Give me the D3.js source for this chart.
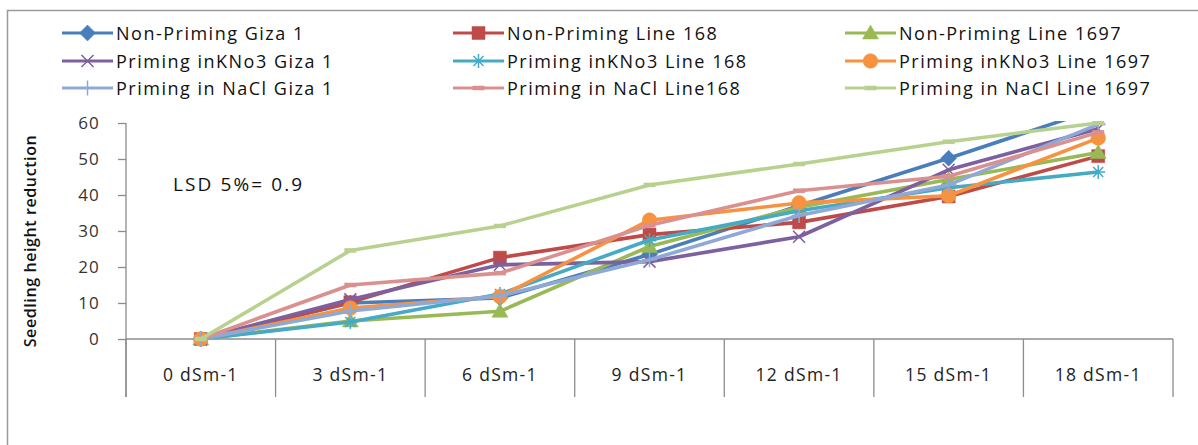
<!DOCTYPE html>
<html>
<head>
<meta charset="utf-8">
<script src="https://cdn.jsdelivr.net/npm/d3@7"></script>
<style>
  body { margin: 0; background: #fff; }
  svg { display: block; font-family: "Open Sans", sans-serif; }
</style>
</head>
<body>
<svg id="chart"></svg>
<script>
// salinity levels on the x axis
var categories = ["0 dSm-1", "3 dSm-1", "6 dSm-1", "9 dSm-1", "12 dSm-1", "15 dSm-1", "18 dSm-1"]
var yTicks = [0, 10, 20, 30, 40, 50, 60]

// values (seedling height reduction)
var nonPrimingGiza1 = [0, 10, 11.4, 23.5, 37, 50.2, 64]
var nonPrimingLine168 = [0, 10.2, 22.6, 29, 32.4, 39.6, 50.8]
var nonPrimingLine1697 = [0, 5, 7.7, 25.7, 36.6, 44.3, 51.8]
var kno3Giza1 = [0, 11, 20.6, 21.5, 28.4, 47, 58.4]
var kno3Line168 = [0, 4.7, 12.5, 27.5, 35.6, 42, 46.4]
var kno3Line1697 = [0, 8.6, 11.8, 33, 37.8, 39.8, 55.8]
var naclGiza1 = [0, 7.8, 12, 22, 34.3, 42.8, 59.6]
var naclLine168 = [0, 15, 18.3, 31.6, 41.2, 45.2, 57.4]
var naclLine1697 = [0, 24.6, 31.4, 42.8, 48.6, 54.8, 60]

var seriesNames = ["Non-Priming Giza 1", "Non-Priming Line 168", "Non-Priming Line 1697",
  "Priming inKNo3 Giza 1", "Priming inKNo3 Line 168", "Priming inKNo3 Line 1697",
  "Priming in NaCl Giza 1", "Priming in NaCl Line168", "Priming in NaCl Line 1697"]
var seriesValues = [nonPrimingGiza1, nonPrimingLine168, nonPrimingLine1697,
  kno3Giza1, kno3Line168, kno3Line1697, naclGiza1, naclLine168, naclLine1697]
var seriesColors = ["#4A7EBB", "#BE4B48", "#98B954", "#7D60A0", "#46AAC5", "#F69240", "#8FA9D6", "#D9908F", "#B9D18F"]
var seriesMarkers = ["diamond", "square", "triangle", "x", "star", "circle", "plus", "dash", "dash"]

var width = 1198, height = 445
var margin = {top: 123, right: 25, bottom: 106, left: 126}

var series = seriesNames.map((name, i) => ({
  name: name,
  values: seriesValues[i],
  color: seriesColors[i],
  marker: seriesMarkers[i]
}))

var svg = d3.select("#chart")
  .attr("width", width)
  .attr("height", height)

// chart area border
svg.append("rect")
  .attr("x", 7.5)
  .attr("y", 10.5)
  .attr("width", width + 20)
  .attr("height", height + 20)
  .attr("fill", "#fff")
  .attr("stroke", "#9a9a9a")
  .attr("stroke-width", 1.5)

var x = d3.scaleBand()
  .domain(categories)
  .range([margin.left, width - margin.right])
  .paddingInner(0)
  .paddingOuter(0)

var y = d3.scaleLinear()
  .domain([0, 60])
  .range([height - margin.bottom, margin.top])

var axisColor = "#8c8c8c"

// y axis
var yAxis = g => g
  .attr("transform", `translate(${margin.left},0)`)
  .call(d3.axisLeft(y).tickValues(yTicks).tickSize(8).tickPadding(18).tickSizeOuter(0))
  .call(g => g.select(".domain").remove())
  .call(g => g.selectAll(".tick line").attr("stroke", axisColor).attr("stroke-width", 1.3))
  .call(g => g.selectAll(".tick text")
    .attr("font-family", "Open Sans")
    .attr("font-size", 17)
    .attr("letter-spacing", 1.2)
    .attr("fill", "#333"))

svg.append("g").call(yAxis)

svg.append("line")
  .attr("x1", margin.left).attr("x2", margin.left)
  .attr("y1", y(60)).attr("y2", y(0) + 58)
  .attr("stroke", axisColor).attr("stroke-width", 1.3)

// x axis, Excel style with category dividers
var boundaries = categories.map(c => x(c)).concat([x.range()[1]])
var xg = svg.append("g")
xg.append("line")
  .attr("x1", margin.left).attr("x2", x.range()[1])
  .attr("y1", y(0)).attr("y2", y(0))
  .attr("stroke", axisColor).attr("stroke-width", 1.3)
xg.selectAll("line.div")
  .data(boundaries)
  .join("line")
  .attr("class", "div")
  .attr("x1", d => d).attr("x2", d => d)
  .attr("y1", y(0)).attr("y2", y(0) + 58)
  .attr("stroke", axisColor).attr("stroke-width", 1.3)
xg.selectAll("text")
  .data(categories)
  .join("text")
  .attr("x", d => x(d) + x.bandwidth() / 2)
  .attr("y", y(0) + 42)
  .attr("text-anchor", "middle")
  .attr("font-size", 17.5)
  .attr("letter-spacing", 1.3)
  .attr("fill", "#222")
  .text(d => d)

// y title
svg.append("text")
  .attr("transform", `translate(36,241) rotate(-90)`)
  .attr("text-anchor", "middle")
  .attr("font-size", 16)
  .attr("font-weight", 600)
  .attr("letter-spacing", 0.6)
  .attr("fill", "#111")
  .text("Seedling height reduction")

svg.append("text")
  .attr("x", 173)
  .attr("y", 191)
  .attr("font-size", 19)
  .attr("letter-spacing", 2.1)
  .attr("fill", "#111")
  .text("LSD 5%= 0.9")

// markers
function markerPath(type) {
  switch (type) {
    case "diamond": return "M0,-8L8,0L0,8L-8,0Z"
    case "square": return "M-6.5,-6.5H6.5V6.5H-6.5Z"
    case "triangle": return "M0,-8L8,6L-8,6Z"
    case "circle": return d3.symbol(d3.symbolCircle, 170)()
    case "x": return "M-6,-6L6,6M-6,6L6,-6"
    case "star": return "M-7,0H7M0,-7V7M-5,-5L5,5M-5,5L5,-5"
    case "plus": return "M-7.5,0H7.5M0,-7.5V7.5"
    case "dash": return "M-6,0H6"
  }
}
var filled = {diamond: true, square: true, triangle: true, circle: true}

function drawMarker(sel, s) {
  sel.append("path")
    .attr("d", markerPath(s.marker))
    .attr("fill", filled[s.marker] ? s.color : "none")
    .attr("stroke", s.color)
    .attr("stroke-width", filled[s.marker] ? 0.5 : (s.marker == "dash" ? 4.5 : 1.5))
}

svg.append("clipPath")
  .attr("id", "plotclip")
  .append("rect")
  .attr("x", margin.left)
  .attr("y", y(60) - 2)
  .attr("width", x.range()[1] - margin.left)
  .attr("height", y(0) - y(60) + 20)

var line = d3.line()
  .x((d, i) => x(categories[i]) + x.bandwidth() / 2)
  .y(d => y(d))

var plot = svg.append("g").attr("clip-path", "url(#plotclip)")

series.forEach(s => {
  var g = plot.append("g")
  g.append("path")
    .attr("d", line(s.values))
    .attr("fill", "none")
    .attr("stroke", s.color)
    .attr("stroke-width", 3.6)
    .attr("stroke-linejoin", "round")
  s.values.forEach((v, i) => {
    var m = g.append("g")
      .attr("transform", `translate(${x(categories[i]) + x.bandwidth() / 2},${y(v)})`)
    drawMarker(m, s)
  })
})

// legend, 3 columns
var legendX = [62, 453, 845]
var legendY = [33, 61, 88]
var legend = svg.append("g")
  .selectAll("g")
  .data(series)
  .join("g")
  .attr("transform", (d, i) => `translate(${legendX[i % 3]},${legendY[Math.floor(i / 3)]})`)

legend.append("line")
  .attr("x1", 0).attr("x2", 51)
  .attr("stroke", d => d.color)
  .attr("stroke-width", 3.2)
legend.each(function(d) {
  drawMarker(d3.select(this).append("g").attr("transform", "translate(25.5,0)"), d)
})
legend.append("text")
  .attr("x", 54)
  .attr("y", 6.5)
  .attr("font-size", 18)
  .attr("letter-spacing", 1.5)
  .attr("fill", "#111")
  .text(d => d.name)
</script>
</body>
</html>
